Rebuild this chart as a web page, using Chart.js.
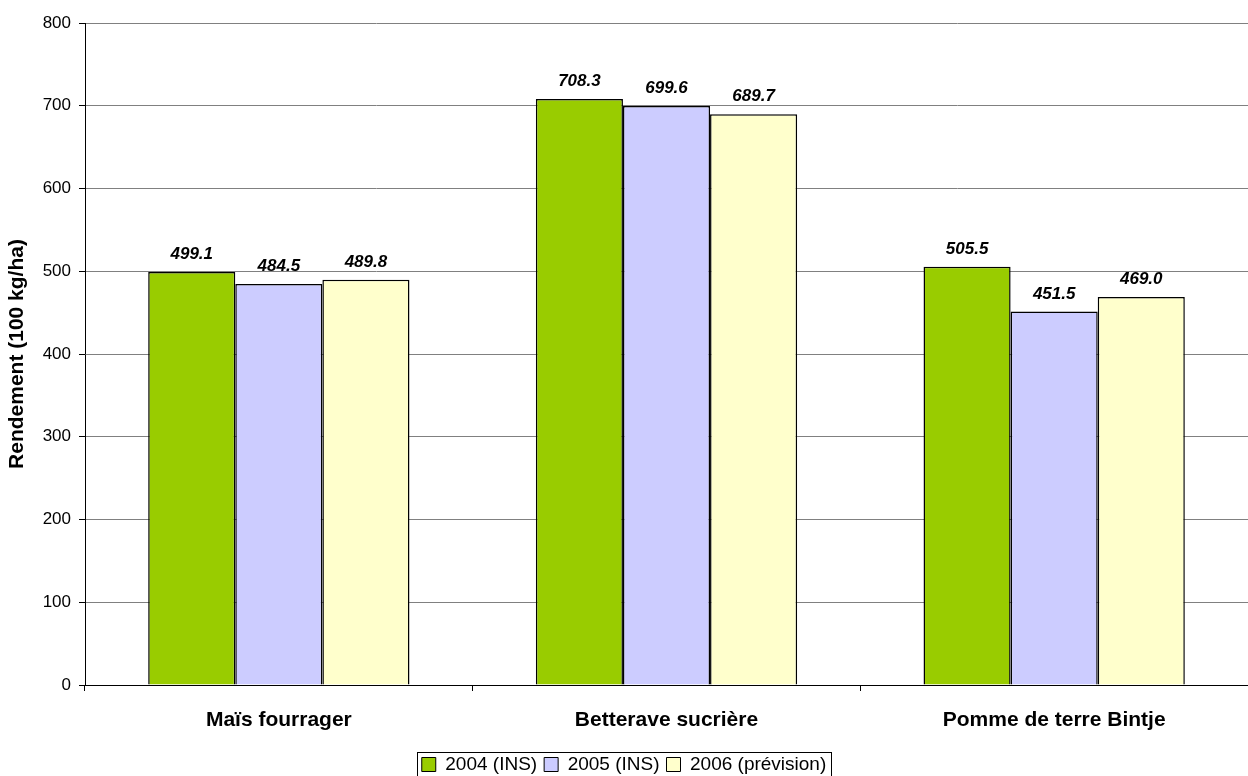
<!DOCTYPE html>
<html>
<head>
<meta charset="utf-8">
<script src="https://cdn.jsdelivr.net/npm/chart.js@4/dist/chart.umd.min.js"></script>
<style>
html,body{margin:0;padding:0;background:#fff;}
#wrap{width:1248px;height:776px;position:relative;}
</style>
</head>
<body>
<div id="wrap"><canvas id="c" width="1248" height="776"></canvas></div>
<script>
const categories = ["Maïs fourrager", "Betterave sucrière", "Pomme de terre Bintje"];
const series2004 = [499.1, 708.3, 505.5];
const series2005 = [484.5, 699.6, 451.5];
const series2006 = [489.8, 689.7, 469.0];
const seriesNames = ["2004 (INS)", "2005 (INS)", "2006 (prévision)"];
const yTicks = [0, 100, 200, 300, 400, 500, 600, 700, 800];

const FONT = "Arial, 'Liberation Sans', sans-serif";

const labelPlugin = {
  id: 'valueLabels',
  afterDatasetsDraw(chart) {
    const ctx = chart.ctx;
    ctx.save();
    ctx.font = "italic bold 17px " + FONT;
    ctx.fillStyle = '#000';
    ctx.textAlign = 'center';
    ctx.textBaseline = 'bottom';
    chart.data.datasets.forEach((ds, i) => {
      const meta = chart.getDatasetMeta(i);
      meta.data.forEach((bar, j) => {
        ctx.fillText(ds.data[j].toFixed(1), bar.x, bar.y - 9);
      });
    });
    ctx.restore();
  }
};

const legendBoxPlugin = {
  id: 'legendBox',
  afterDraw(chart) {
    const lg = chart.legend;
    if (!lg || !lg.legendHitBoxes || !lg.legendHitBoxes.length) return;
    const boxes = lg.legendHitBoxes;
    const l = boxes[0].left - 5;
    const r = boxes[boxes.length - 1].left + boxes[boxes.length - 1].width + 5;
    const ctx = chart.ctx;
    ctx.save();
    ctx.strokeStyle = '#000';
    ctx.lineWidth = 1;
    ctx.strokeRect(Math.round(l) + 0.5, 752.5, Math.round(r - l), 30);
    ctx.restore();
  }
};

new Chart(document.getElementById('c'), {
  type: 'bar',
  data: {
    labels: categories,
    datasets: [
      { label: seriesNames[0], data: series2004, backgroundColor: '#99CC00', borderColor: '#000', borderWidth: 1.5 },
      { label: seriesNames[1], data: series2005, backgroundColor: '#CCCCFF', borderColor: '#000', borderWidth: 1.5 },
      { label: seriesNames[2], data: series2006, backgroundColor: '#FFFFCC', borderColor: '#000', borderWidth: 1.5 }
    ]
  },
  options: {
    responsive: false,
    animation: false,
    devicePixelRatio: 1,
    layout: { padding: { top: 23, right: 0, left: 0, bottom: -8 } },
    datasets: { bar: { categoryPercentage: 0.674, barPercentage: 1.0 } },
    plugins: {
      legend: {
        position: 'bottom',
        labels: {
          font: { family: FONT, size: 19 },
          color: '#000',
          boxWidth: 14,
          boxHeight: 14,
          padding: 7,
          generateLabels(chart) {
            return chart.data.datasets.map((ds, i) => ({
              text: ds.label,
              fillStyle: ds.backgroundColor,
              strokeStyle: '#000',
              lineWidth: 1,
              datasetIndex: i,
              fontColor: '#000'
            }));
          }
        }
      },
      tooltip: { enabled: false },
      title: { display: false }
    },
    scales: {
      x: {
        grid: { display: true, drawOnChartArea: false, offset: true, color: '#000', tickColor: '#000', tickLength: 6 },
        border: { display: true, color: '#000', width: 1 },
        ticks: { font: { family: FONT, size: 21, weight: 'bold' }, color: '#000', padding: 17 },
        afterFit(scale) { scale.height = 63; }
      },
      y: {
        min: 0, max: 800,
        afterBuildTicks(scale) { scale.ticks = yTicks.map(v => ({ value: v })); },
        grid: { color: '#808080', tickColor: '#000', tickLength: 6, lineWidth: 1 },
        border: { display: true, color: '#000', width: 1 },
        ticks: { font: { family: FONT, size: 17 }, color: '#000', padding: 8 },
        title: { display: true, text: 'Rendement (100 kg/ha)', font: { family: FONT, size: 21, weight: 'bold' }, color: '#000', padding: { top: 5, bottom: 4 } },
        afterFit(scale) { scale.width = 85; }
      }
    }
  },
  plugins: [labelPlugin, legendBoxPlugin]
});
</script>
</body>
</html>
